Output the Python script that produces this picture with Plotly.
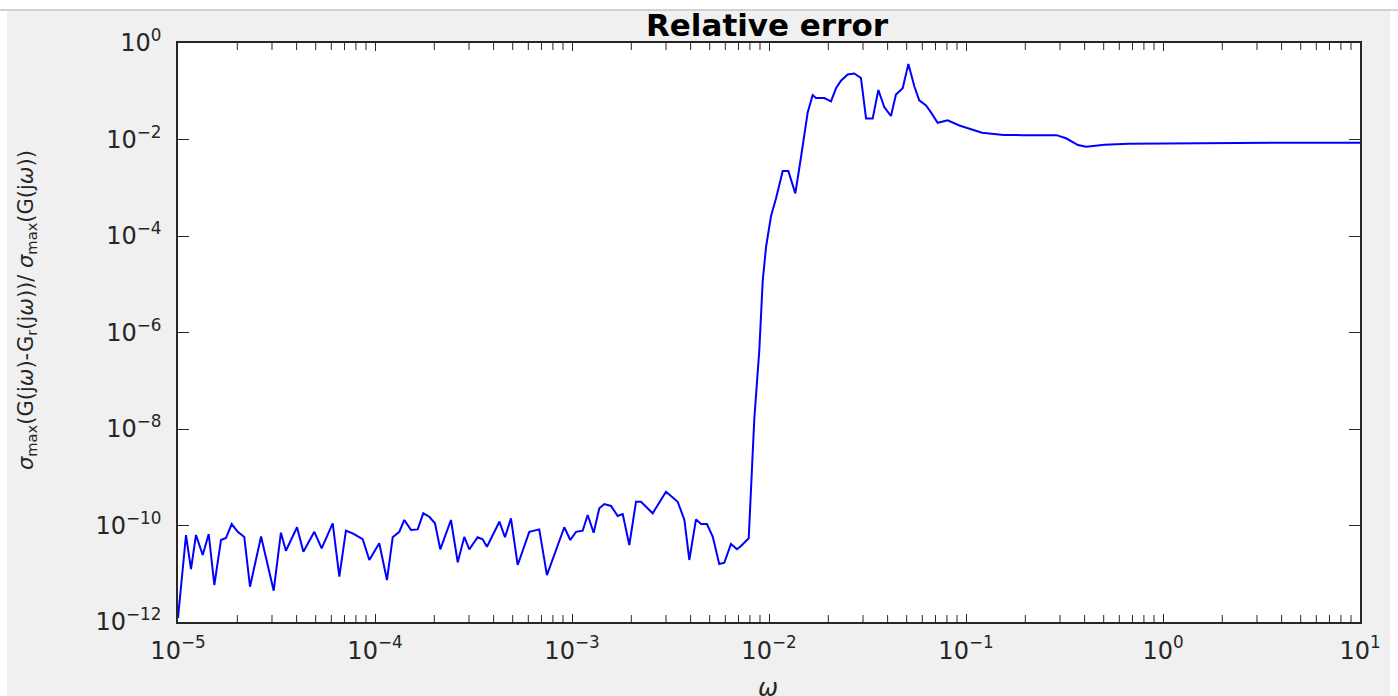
import plotly.graph_objects as go

# ---- data ----
omega = [
    1.00e-5, 1.098e-5, 1.164e-5, 1.234e-5, 1.335e-5, 1.432e-5, 1.529e-5, 1.653e-5, 1.752e-5, 1.873e-5,
    2.01e-5, 2.17e-5, 2.32e-5, 2.64e-5, 3.06e-5, 3.33e-5, 3.53e-5, 4.02e-5, 4.33e-5, 4.92e-5,
    5.36e-5, 6.10e-5, 6.59e-5, 7.12e-5, 7.70e-5, 8.66e-5, 9.36e-5, 1.051e-4, 1.150e-4, 1.230e-4,
    1.328e-4, 1.408e-4, 1.523e-4, 1.647e-4, 1.758e-4, 1.886e-4, 2.016e-4, 2.145e-4, 2.43e-4, 2.63e-4,
    2.84e-4, 3.01e-4, 3.32e-4, 3.52e-4, 3.70e-4, 4.28e-4, 4.57e-4, 4.90e-4, 5.30e-4, 6.07e-4,
    6.82e-4, 7.46e-4, 9.14e-4, 9.80e-4, 1.048e-3, 1.133e-3, 1.201e-3, 1.288e-3, 1.376e-3, 1.459e-3,
    1.578e-3, 1.706e-3, 1.809e-3, 1.954e-3, 2.113e-3, 2.240e-3, 2.568e-3, 3.00e-3, 3.44e-3, 3.72e-3,
    3.94e-3, 4.26e-3, 4.52e-3, 4.84e-3, 5.18e-3, 5.59e-3, 5.93e-3, 6.41e-3, 6.88e-3, 7.21e-3,
    7.89e-3, 8.42e-3, 8.93e-3, 9.29e-3, 9.66e-3, 1.024e-2, 1.085e-2, 1.174e-2, 1.253e-2, 1.360e-2,
    1.454e-2, 1.572e-2, 1.666e-2, 1.732e-2, 1.909e-2, 2.064e-2, 2.188e-2, 2.319e-2, 2.508e-2, 2.71e-2,
    2.93e-2, 3.11e-2, 3.36e-2, 3.59e-2, 3.85e-2, 4.16e-2, 4.41e-2, 4.77e-2, 5.10e-2, 5.47e-2,
    5.79e-2, 6.27e-2, 6.64e-2, 7.18e-2, 8.07e-2, 9.25e-2, 1.206e-1, 1.550e-1, 1.94e-1, 2.88e-1,
    3.22e-1, 3.70e-1, 4.08e-1, 5.05e-1, 6.70e-1, 1.175, 3.62, 10.0,
]

rel_err = [
    1.21e-12, 6.35e-11, 1.25e-11, 6.35e-11, 2.45e-11, 6.67e-11, 5.85e-12, 5.0e-11, 5.5e-11, 1.07e-10,
    7.4e-11, 5.8e-11, 5.4e-12, 5.9e-11, 4.45e-12, 7.1e-11, 3.0e-11, 9.2e-11, 2.86e-11, 7.4e-11,
    3.37e-11, 1.11e-10, 8.7e-12, 7.8e-11, 6.9e-11, 5.2e-11, 1.93e-11, 4.28e-11, 7.4e-12, 5.7e-11,
    7.4e-11, 1.30e-10, 8.1e-11, 8.3e-11, 1.79e-10, 1.52e-10, 1.11e-10, 3.21e-11, 1.30e-10, 1.73e-11,
    5.8e-11, 3.21e-11, 5.7e-11, 5.2e-11, 3.64e-11, 1.20e-10, 5.7e-11, 1.41e-10, 1.52e-11, 7.4e-11,
    8.3e-11, 9.4e-12, 9.2e-11, 5.0e-11, 7.4e-11, 7.8e-11, 1.65e-10, 7.1e-11, 2.27e-10, 2.79e-10,
    2.54e-10, 1.57e-10, 1.73e-10, 3.94e-11, 3.11e-10, 3.11e-10, 1.79e-10, 5.02e-10, 3.11e-10, 1.30e-10,
    1.93e-11, 1.34e-10, 1.07e-10, 1.07e-10, 5.9e-11, 1.59e-11, 1.69e-11, 4.14e-11, 3.21e-11, 3.76e-11,
    5.43e-11, 1.61e-8, 4.34e-7, 1.17e-5, 5.92e-5, 2.60e-4, 5.96e-4, 2.22e-3, 2.22e-3, 7.63e-4,
    4.34e-3, 3.65e-2, 8.36e-2, 7.25e-2, 7.25e-2, 6.16e-2, 1.15e-1, 1.65e-1, 2.22e-1, 2.34e-1,
    1.88e-1, 2.71e-2, 2.71e-2, 1.06e-1, 4.67e-2, 3.07e-2, 8.57e-2, 1.15e-1, 3.67e-1, 1.25e-1,
    6.49e-2, 5.07e-2, 3.65e-2, 2.22e-2, 2.50e-2, 1.95e-2, 1.38e-2, 1.24e-2, 1.23e-2, 1.23e-2,
    1.06e-2, 7.69e-3, 7.10e-3, 7.80e-3, 8.18e-3, 8.34e-3, 8.59e-3, 8.6e-3,
]

x_tickvals = [1e-5, 1e-4, 1e-3, 1e-2, 1e-1, 1e0, 1e1]
x_ticktext = ["10<sup>\u22125</sup>", "10<sup>\u22124</sup>", "10<sup>\u22123</sup>",
              "10<sup>\u22122</sup>", "10<sup>\u22121</sup>", "10<sup>0</sup>", "10<sup>1</sup>"]
y_tickvals = [1e-12, 1e-10, 1e-8, 1e-6, 1e-4, 1e-2, 1e0]
y_ticktext = ["10<sup>\u221212</sup>", "10<sup>\u221210</sup>", "10<sup>\u22128</sup>",
              "10<sup>\u22126</sup>", "10<sup>\u22124</sup>", "10<sup>\u22122</sup>", "10<sup>0</sup>"]
x_minor = [k * 10.0 ** n for n in range(-5, 1) for k in range(2, 10)]
y_bottom, y_top = 1e-12, 1e0

title_text = "<b>Relative error</b>"
xlabel_text = "<i>\u03c9</i>"
ylabel_text = ("<i>\u03c3</i><sub>max</sub>(G(j<i>\u03c9</i>)-G<sub>r</sub>(j<i>\u03c9</i>))/ "
               "<i>\u03c3</i><sub>max</sub>(G(j<i>\u03c9</i>))")

AX = "#262626"
FONT = "DejaVu Sans"

fig = go.Figure()
fig.add_trace(go.Scatter(x=omega, y=rel_err, mode="lines",
                         line=dict(color="#0000ff", width=2), showlegend=False, hoverinfo="skip"))
# minor ticks of the log x axis (bottom and top): half of each marker is clipped away by the axes
for edge in (y_bottom, y_top):
    fig.add_trace(go.Scatter(x=x_minor, y=[edge] * len(x_minor), mode="markers", cliponaxis=True,
                             marker=dict(symbol="line-ns", size=10, line=dict(color=AX, width=1)),
                             showlegend=False, hoverinfo="skip"))

W, H = 1398, 696
L, R, T, B = 178, 38, 43, 74
PW, PH = W - L - R, H - T - B


def px_x(px):
    return (px - L) / PW


def px_y(py):
    return (H - B - py) / PH


shapes = [
    dict(type="rect", xref="paper", yref="paper", x0=-0.3, x1=1.2, y0=px_y(10), y1=px_y(-20),
         fillcolor="white", line=dict(width=0), layer="above"),
    dict(type="rect", xref="paper", yref="paper", x0=-0.3, x1=px_x(7), y0=px_y(720), y1=px_y(-20),
         fillcolor="white", line=dict(width=0), layer="above"),
    dict(type="rect", xref="paper", yref="paper", x0=px_x(1390), x1=1.2, y0=px_y(720), y1=px_y(-20),
         fillcolor="white", line=dict(width=0), layer="above"),
    dict(type="line", xref="paper", yref="paper", x0=px_x(0), x1=px_x(1398), y0=px_y(10), y1=px_y(10),
         line=dict(color="#c4c4c4", width=1.5), layer="above"),
]

fig.update_layout(
    width=W, height=H, autosize=False,
    margin=dict(l=L, r=R, t=T, b=B, pad=0),
    paper_bgcolor="#f0f0f0", plot_bgcolor="white",
    title=dict(text=title_text, x=px_x(767), xref="paper", xanchor="center",
               y=1 - 25 / H, yref="container", yanchor="middle",
               font=dict(family=FONT, size=31, color="black")),
    xaxis=dict(type="log", range=[-5, 1], tickmode="array", tickvals=x_tickvals, ticktext=x_ticktext,
               ticks="inside", ticklen=8, tickwidth=1, tickcolor=AX,
               showline=True, linecolor=AX, linewidth=1.5, mirror="ticks",
               showgrid=False, zeroline=False, ticklabelstandoff=6,
               tickfont=dict(family=FONT, size=24, color=AX)),
    yaxis=dict(type="log", range=[-12, 0], tickmode="array", tickvals=y_tickvals, ticktext=y_ticktext,
               ticks="inside", ticklen=11, tickwidth=1, tickcolor=AX,
               showline=True, linecolor=AX, linewidth=1.5, mirror="ticks",
               showgrid=False, zeroline=False, ticklabelstandoff=10,
               tickfont=dict(family=FONT, size=24, color=AX)),
    annotations=[
        dict(text=ylabel_text, xref="paper", yref="paper", x=px_x(27), y=px_y(310),
             xanchor="center", yanchor="middle", textangle=-90, showarrow=False,
             font=dict(family=FONT, size=21, color=AX)),
        dict(text=xlabel_text, xref="paper", yref="paper", x=px_x(768), y=px_y(672),
             xanchor="center", yanchor="top", showarrow=False,
             font=dict(family=FONT, size=24, color=AX)),
    ],
    shapes=shapes,
)

fig.write_html("out.html")
